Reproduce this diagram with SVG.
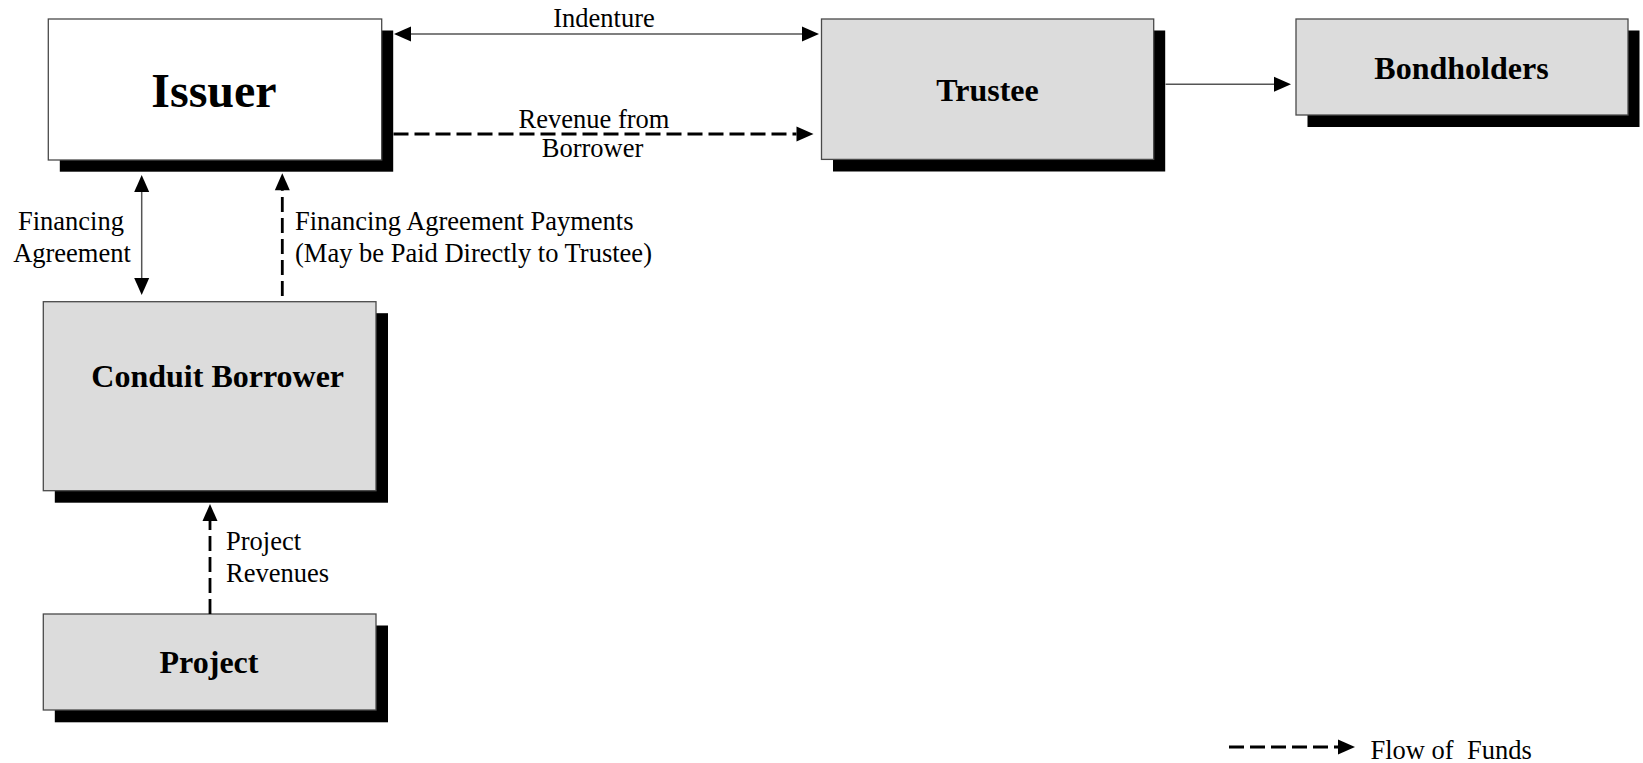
<svg xmlns="http://www.w3.org/2000/svg" width="1643" height="763" viewBox="0 0 1643 763">
  <style>
    .box { stroke: #4a4a4a; stroke-width: 1.3; }
    .white { fill: #ffffff; }
    .gray { fill: #dcdcdc; }
    .shadow { fill: #000000; }
    .title { font-family: "Liberation Serif", "Times New Roman", serif; font-weight: bold; font-size: 32px; fill: #000; text-anchor: middle; }
    .label { font-family: "Liberation Serif", "Times New Roman", serif; font-size: 26.5px; fill: #000; white-space: pre; }
    .solid { stroke: #555555; stroke-width: 1.5; fill: none; }
    .dashed { stroke: #000000; stroke-width: 2.8; fill: none; stroke-dasharray: 15 6; }
  </style>
  <defs>
    <marker id="head" markerUnits="userSpaceOnUse" markerWidth="18" markerHeight="16" refX="0" refY="7.5" orient="auto-start-reverse" overflow="visible">
      <path d="M0,0 L17,7.5 L0,15 Z" fill="#000000"/>
    </marker>
  </defs>

  <rect width="1643" height="763" fill="#ffffff"/>

  <!-- nodes -->
  <g id="issuer">
    <rect class="shadow" x="59.8" y="30.5" width="333.4" height="141.2"/>
    <rect class="box white" x="48.3" y="19" width="333.4" height="141"/>
    <text class="title" x="214" y="107" style="font-size:48px">Issuer</text>
  </g>

  <g id="trustee">
    <rect class="shadow" x="833" y="30.5" width="332.2" height="141"/>
    <rect class="box gray" x="821.5" y="19" width="332.2" height="140.4"/>
    <text class="title" x="987.5" y="100.5">Trustee</text>
  </g>

  <g id="bondholders">
    <rect class="shadow" x="1307.5" y="30.5" width="332" height="96.5"/>
    <rect class="box gray" x="1296" y="19" width="332" height="96"/>
    <text class="title" x="1461.5" y="79">Bondholders</text>
  </g>

  <g id="conduit-borrower">
    <rect class="shadow" x="54.8" y="313.2" width="333.2" height="189.5"/>
    <rect class="box gray" x="43.3" y="301.7" width="332.7" height="189"/>
    <text class="title" x="217.7" y="386.7">Conduit Borrower</text>
  </g>

  <g id="project">
    <rect class="shadow" x="54.8" y="625.5" width="333.2" height="96.8"/>
    <rect class="box gray" x="43.3" y="614" width="332.7" height="96"/>
    <text class="title" x="209" y="673.3">Project</text>
  </g>

  <!-- connectors -->
  <g id="connectors">
    <!-- Indenture (two-way) -->
    <line class="solid" x1="411" y1="34" x2="802" y2="34" marker-start="url(#head)" marker-end="url(#head)"/>
    <!-- Revenue from Borrower -->
    <line class="dashed" x1="393.5" y1="134" x2="796.5" y2="134" marker-end="url(#head)"/>
    <!-- Trustee to Bondholders -->
    <line class="solid" x1="1165.5" y1="84.3" x2="1274" y2="84.3" marker-end="url(#head)"/>
    <!-- Financing Agreement (two-way) -->
    <line class="solid" x1="141.7" y1="192" x2="141.7" y2="278" marker-start="url(#head)" marker-end="url(#head)"/>
    <!-- Financing Agreement Payments -->
    <line class="dashed" x1="282.3" y1="296" x2="282.3" y2="190.3" marker-end="url(#head)"/>
    <!-- Project Revenues -->
    <line class="dashed" x1="210" y1="614" x2="210" y2="521" marker-end="url(#head)"/>
    <!-- legend sample -->
    <line class="dashed" x1="1229" y1="747" x2="1338" y2="747" marker-end="url(#head)"/>
  </g>

  <!-- connector labels -->
  <g id="labels">
    <text class="label" x="604" y="27" text-anchor="middle">Indenture</text>
    <text class="label" x="594" y="128" text-anchor="middle">Revenue from</text>
    <text class="label" x="592.5" y="157" text-anchor="middle">Borrower</text>
    <text class="label" x="71" y="230" text-anchor="middle">Financing</text>
    <text class="label" x="72" y="261.5" text-anchor="middle">Agreement</text>
    <text class="label" x="295" y="230">Financing Agreement Payments</text>
    <text class="label" x="295" y="261.5">(May be Paid Directly to Trustee)</text>
    <text class="label" x="226" y="550">Project</text>
    <text class="label" x="226" y="581.7">Revenues</text>
    <text class="label" x="1370.5" y="758.5">Flow of  Funds</text>
  </g>
</svg>
